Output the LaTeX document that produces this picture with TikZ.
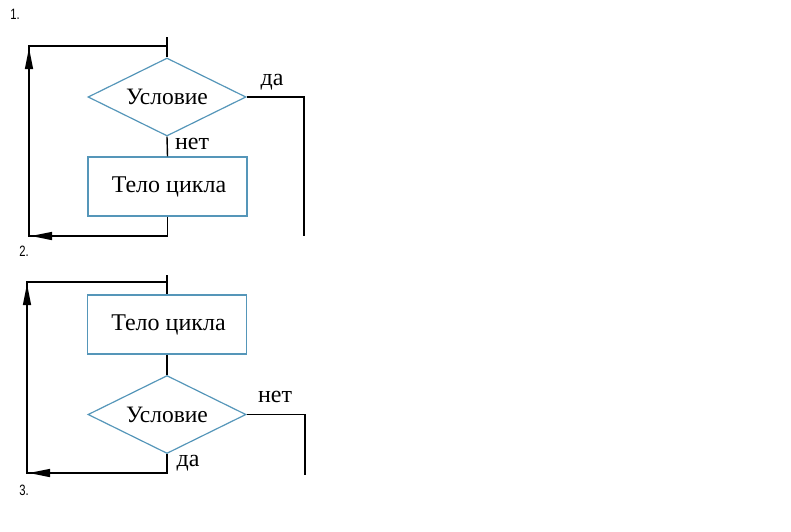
\documentclass[tikz,border=0pt]{standalone}
\usepackage{fontspec}
\setmainfont{Liberation Serif}
\newfontfamily\numfont{Liberation Sans}
\usetikzlibrary{shapes.geometric,arrows.meta}
\definecolor{boxblue}{RGB}{85,150,185}
\tikzset{
  lbl/.style={font=\fontsize{24}{24}\selectfont, inner sep=0pt},
  num/.style={font=\numfont\fontsize{15}{15}\selectfont, inner sep=0pt, xscale=0.75},
  cond/.style={diamond, draw=boxblue, line width=1.2pt, minimum width=158pt, minimum height=78pt, aspect=2, inner sep=0pt, font=\fontsize{23.5}{24}\selectfont},
  body/.style={rectangle, draw=boxblue, line width=1.2pt, minimum width=159pt, minimum height=59pt, inner sep=0pt, font=\fontsize{24}{24}\selectfont},
  wire/.style={line width=1.4pt, black},
  arr/.style={wire, -{Triangle[length=21pt,width=8pt]}},
}
\begin{document}
\begin{tikzpicture}[x=1pt,y=-1pt]
\useasboundingbox (0,0) rectangle (791,531);
% ---------- diagram 1 ----------
\node[num] (n1) at (15,14) {1.};
\node[cond] (d1) at (167,97) {Условие};
\node[body] (b1) at (167.5,186.5) {\hspace{3pt}Тело цикла};
\coordinate (top1) at (167,37);
\coordinate (j1) at (167,46);
\coordinate (c1a) at (29,46);
\coordinate (t1b) at (29,48);
\coordinate (c1b) at (29,236);
\coordinate (t1a) at (31,236);
\coordinate (e1) at (304,236);
\draw[wire] (top1) -- (d1.north);
\draw[wire] (d1.south) -- (b1.north);
\draw[wire] (b1.south) |- (c1b) -- (c1a) -- (j1);
\draw[arr] ([xshift=30pt]t1a) -- (t1a);
\draw[arr] ([yshift=-30pt]t1b) -- (t1b);
\draw[wire] (d1.east) -| (e1);
\node[lbl] (yes1) at (272,82) {да};
\node[lbl] (no1) at (192,144) {нет};
% ---------- diagram 2 ----------
\node[num] (n2) at (24,251) {2.};
\node[body] (b2) at (167,324.5) {\hspace{3pt}Тело цикла};
\node[cond] (d2) at (167,414.5) {Условие};
\coordinate (top2) at (167,275);
\coordinate (j2) at (167,282);
\coordinate (c2a) at (27,282);
\coordinate (t2b) at (27,284);
\coordinate (c2b) at (27,473);
\coordinate (t2a) at (29,473);
\coordinate (e2) at (305,475);
\draw[wire] (top2) -- (b2.north);
\draw[wire] (b2.south) -- (d2.north);
\draw[wire] (d2.south) |- (c2b) -- (c2a) -- (j2);
\draw[arr] ([xshift=30pt]t2a) -- (t2a);
\draw[arr] ([yshift=-30pt]t2b) -- (t2b);
\draw[wire] (d2.east) -| (e2);
\node[lbl] (no2) at (275,397) {нет};
\node[lbl] (yes2) at (188,463) {да};
\node[num] (n3) at (24,490) {3.};
\end{tikzpicture}
\end{document}
